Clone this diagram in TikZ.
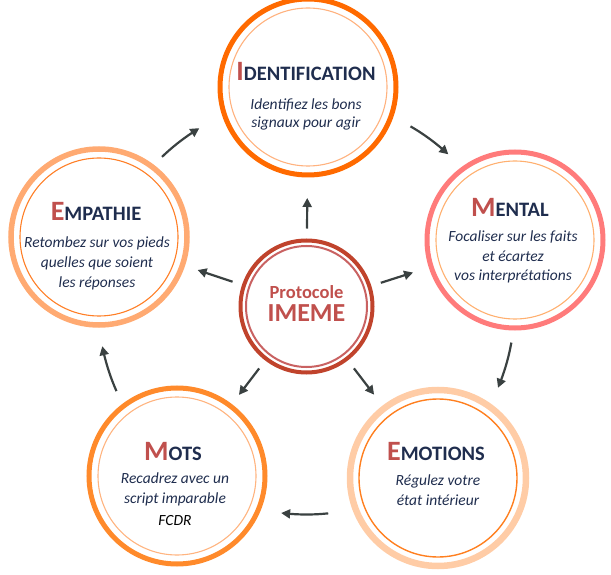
\documentclass[tikz,border=0pt]{standalone}
\usepackage{fontspec}
\setmainfont{Carlito}
\usetikzlibrary{arrows.meta,bending,calc}
\definecolor{navy}{HTML}{1F2D4E}
\definecolor{initred}{HTML}{C0504D}
\definecolor{arrowgray}{HTML}{3A4141}
\definecolor{idout}{HTML}{FF6A00}
\definecolor{idin}{HTML}{FFB27F}
\definecolor{menout}{HTML}{FF7B7B}
\definecolor{menin}{HTML}{FFB070}
\definecolor{emoout}{HTML}{FFCCA6}
\definecolor{emoin}{HTML}{FF7F1F}
\definecolor{motout}{HTML}{FF8A2B}
\definecolor{motin}{HTML}{FFB480}
\definecolor{empout}{HTML}{FFAA72}
\definecolor{empin}{HTML}{FF7F27}
\definecolor{cout}{HTML}{C0432C}
\definecolor{cin}{HTML}{C96262}
\tikzset{
 ring/.style={circle, minimum size=176pt, inner sep=0pt, outer sep=0pt, line width=5pt, draw=#1},
 innerring/.style={line width=1.1pt, draw=#1},
 arr/.style={draw=arrowgray, line width=2.2pt, -{Triangle[length=9pt,width=9pt,bend]}},
 ttl/.style={font=\bfseries\fontsize{20.5}{20.5}\selectfont, text=navy, anchor=base, inner sep=0pt},
 sub/.style={font=\itshape\fontsize{15.5}{19.5}\selectfont, text=navy, align=center, anchor=base, inner sep=0pt},
}
\newcommand\initial[1]{{\color{initred}\fontsize{28}{28}\selectfont #1}}
\begin{document}
\begin{tikzpicture}[x=1pt,y=1pt]
\useasboundingbox (0,0) rectangle (611,574);
% outer circles
\node[ring=idout] (id) at (308,487) {};
\draw[innerring=idin] (id.center) circle[radius=79pt];
\node[ring=menout] (men) at (515,334) {};
\draw[innerring=menin] (men.center) circle[radius=79pt];
\node[ring=emoout, line width=6.5pt] (emo) at (438,96) {};
\draw[innerring=emoin, line width=1.4pt] (emo.center) circle[radius=79pt];
\node[ring=motout] (mot) at (177,98) {};
\draw[innerring=motin] (mot.center) circle[radius=79pt];
\node[ring=empout, line width=5.5pt] (emp) at (99,337) {};
\draw[innerring=empin] (emp.center) circle[radius=79pt];
% center
\node[circle, minimum size=132pt, inner sep=0pt, outer sep=0pt, line width=4pt, draw=cout] (c) at (306.5,267.5) {};
\draw[line width=2pt, cin] (c.center) circle[radius=60.5pt];
\node[font=\bfseries\fontsize{18.5}{18.5}\selectfont, text=initred, anchor=base, inner sep=0pt] (p1) at (306.5,276) {Protocole};
\node[font=\bfseries\fontsize{26}{26}\selectfont, text=initred, anchor=base, inner sep=0pt] (p2) at (306.5,252) {IMEME};
% texts (sub nodes: anchor base = baseline of last line)
\node[ttl] (idt) at (306,493) {\initial{I}DENTIFICATION};
\node[sub, font=\itshape\fontsize{15.5}{18}\selectfont] (ids) at (306,446) {Identifiez les bons\\signaux pour agir};
\node[ttl] (ment) at (510,357) {\initial{M}ENTAL};
\node[sub] (mens) at (513,293) {Focaliser sur les faits\\et écartez\\vos interprétations};
\node[ttl] (emot) at (436,114) {\initial{E}MOTIONS};
\node[sub, font=\itshape\fontsize{15.5}{20}\selectfont] (emos) at (438,69) {Régulez votre\\état intérieur};
\node[ttl] (mott) at (173,114) {\initial{M}OTS};
\node[sub, font=\itshape\fontsize{15.5}{20}\selectfont] (mots) at (175,49) {Recadrez avec un\\script imparable\\[2pt]{\color{black}FCDR}};
\node[ttl] (empt) at (96,353) {\initial{E}MPATHIE};
\node[sub, font=\itshape\fontsize{15.5}{20}\selectfont] (emps) at (97,286) {Retombez sur vos pieds\\quelles que soient\\les réponses};
% straight arrows
\draw[arr, shorten <=12pt, shorten >=23pt] (c) -- (id);
\draw[arr, shorten <=12pt, shorten >=19pt] (c) -- (men);
\draw[arr, shorten <=12pt, shorten >=17pt] (c) -- (emo);
\draw[arr, shorten <=12pt, shorten >=14pt] (c) -- (mot);
\draw[arr, shorten <=12pt, shorten >=16pt] (c) -- (emp);
% curved arrows
\coordinate (a1) at ($(c.center)+(134:208pt)$);
\coordinate (a2) at ($(c.center)+(60:208pt)$);
\coordinate (a3) at ($(c.center)+(-10:208pt)$);
\coordinate (a4) at ($(c.center)+(-84:208pt)$);
\coordinate (a5) at ($(c.center)+(204:208pt)$);
\draw[arr] (a1) arc[start angle=134, end angle=121, radius=208pt];
\draw[arr] (a2) arc[start angle=60, end angle=47, radius=208pt];
\draw[arr] (a3) arc[start angle=-10, end angle=-23, radius=208pt];
\draw[arr] (a4) arc[start angle=-84, end angle=-97, radius=208pt];
\draw[arr] (a5) arc[start angle=204, end angle=191, radius=208pt];
\end{tikzpicture}
\end{document}
